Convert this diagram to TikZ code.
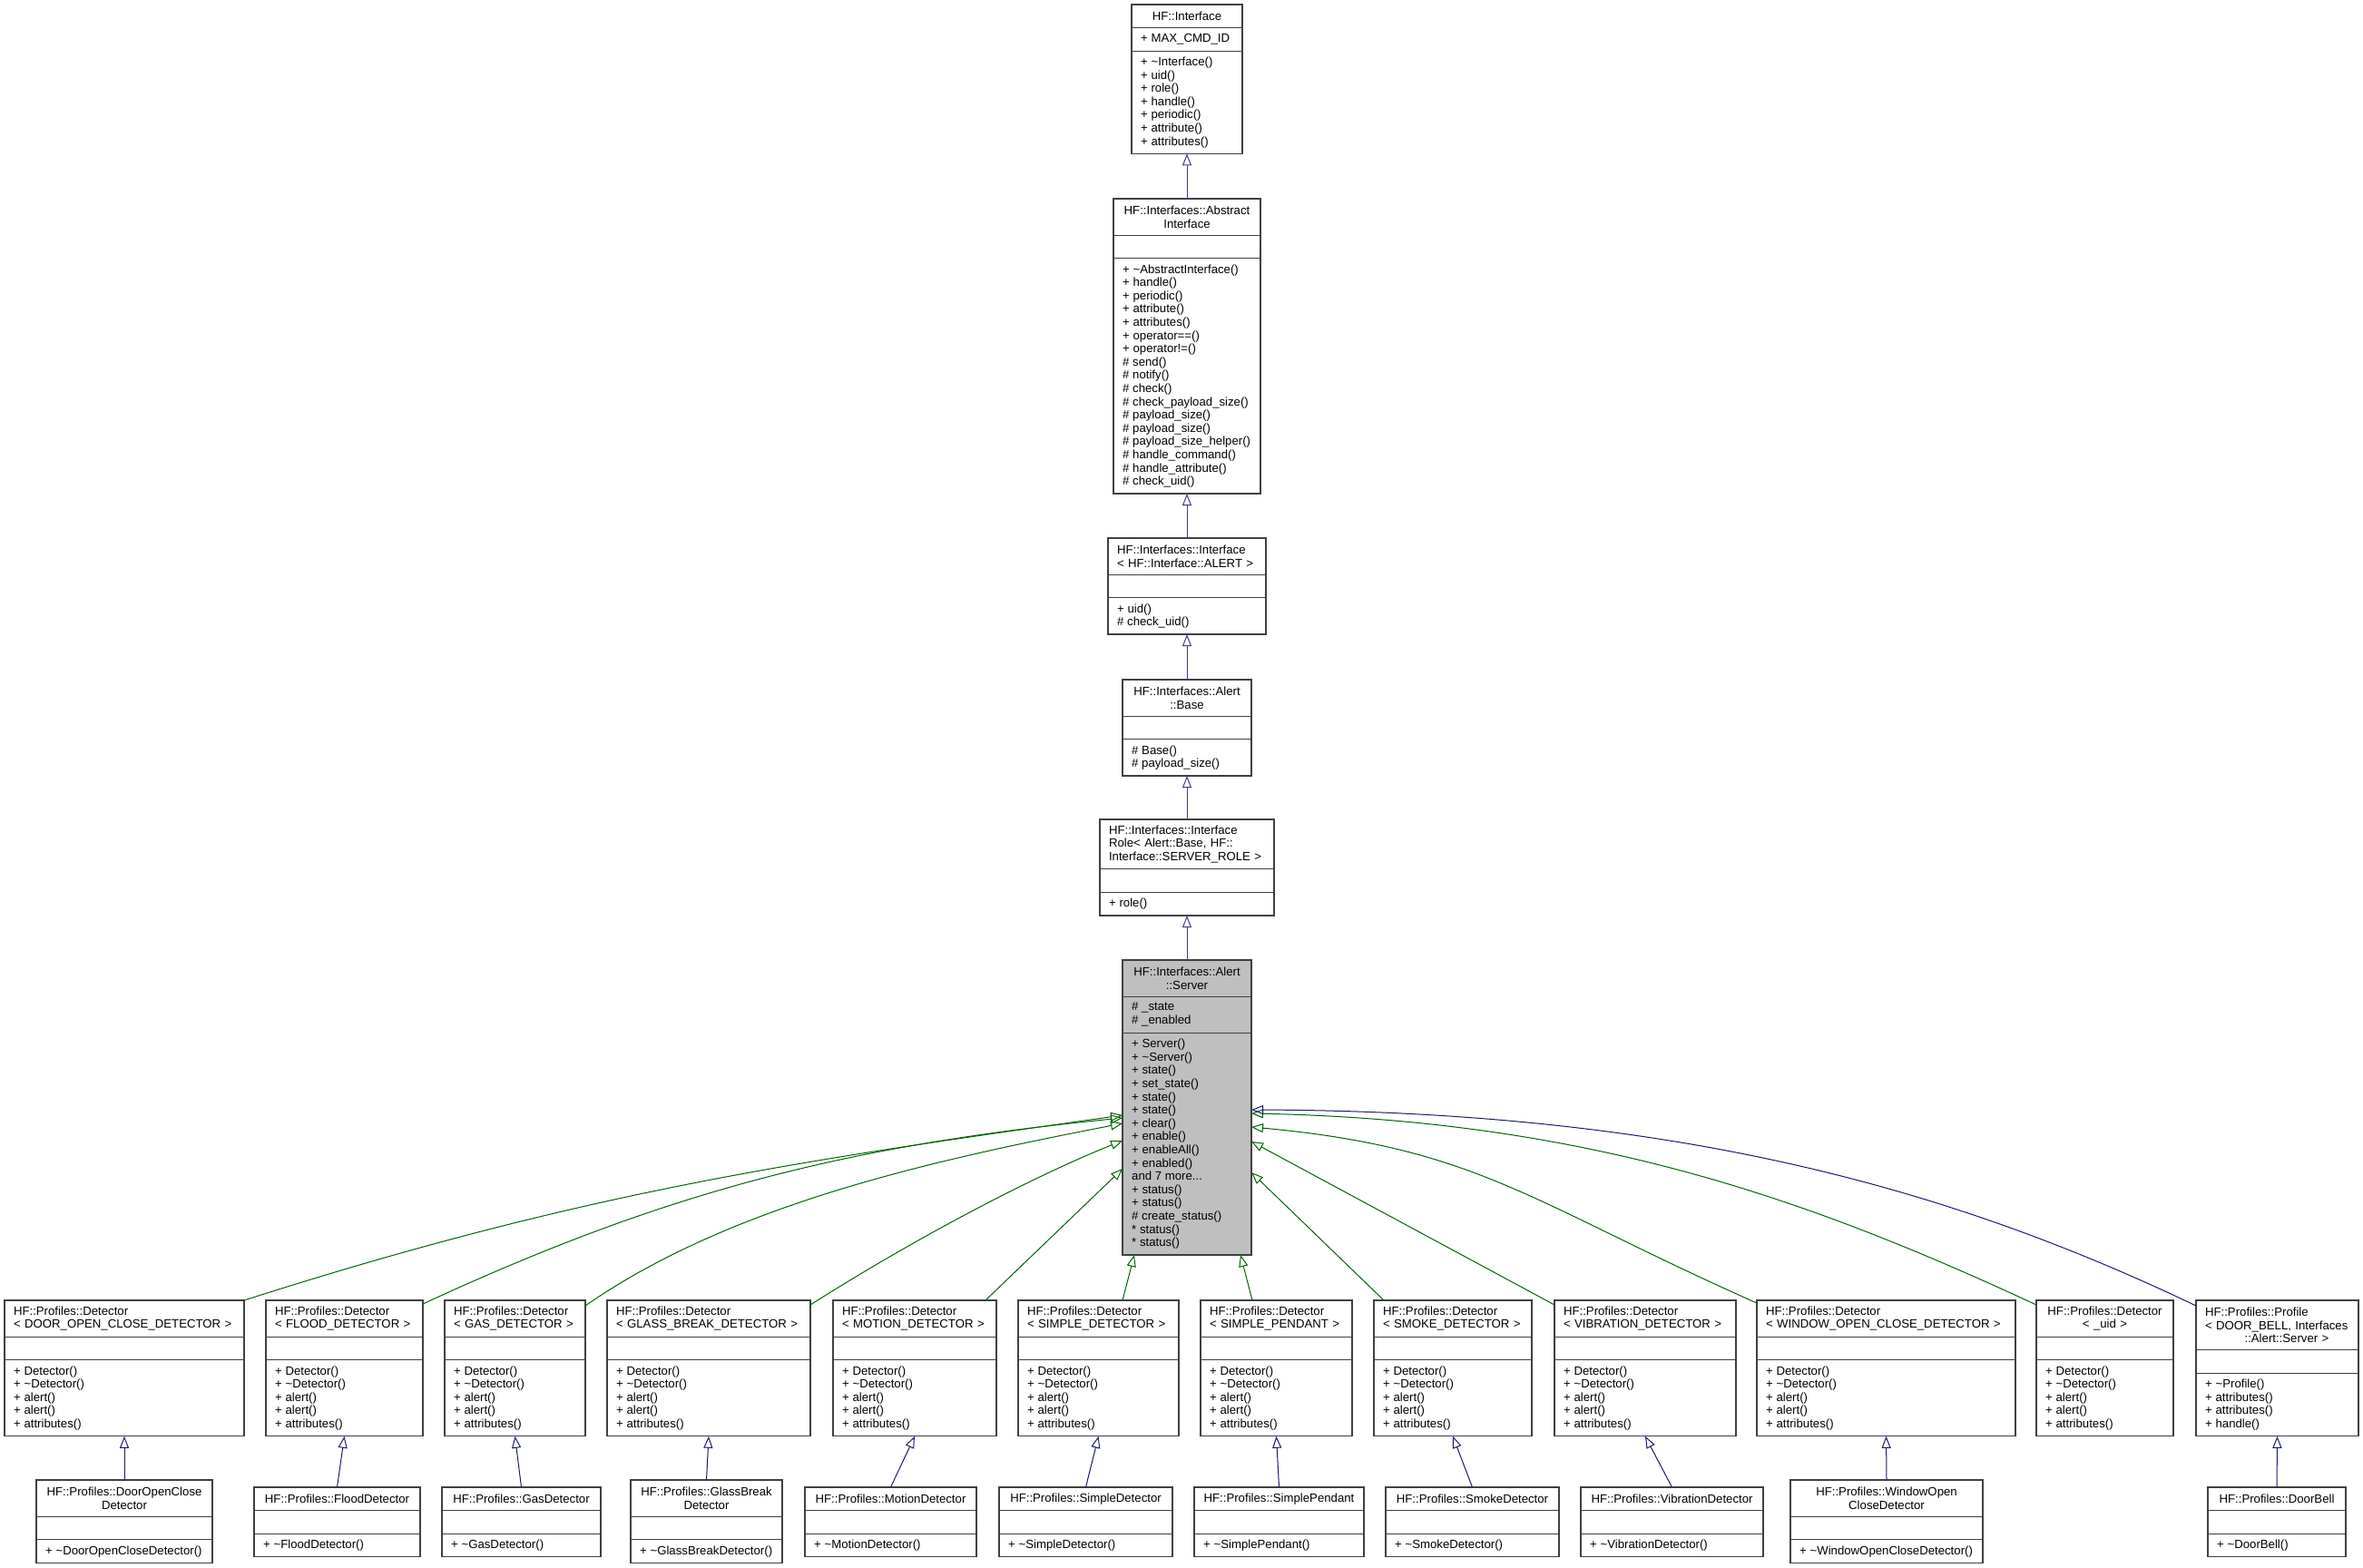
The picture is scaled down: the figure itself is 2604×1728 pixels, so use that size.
\documentclass[tikz,border=0pt]{standalone}
\usepackage{fontspec}
\setmainfont{Liberation Sans}
\usetikzlibrary{arrows.meta}
\definecolor{chainblue}{HTML}{3C3C90}
\definecolor{leafblue}{HTML}{191970}
\definecolor{inhgreen}{HTML}{006400}
\definecolor{boxline}{HTML}{404040}
\tikzset{
  umlframe/.style={draw=boxline, line width=1.2pt, inner sep=0pt, outer sep=0pt},
  umlrule/.style={draw=boxline, line width=1.2pt},
  umltext/.style={inner sep=0pt, font=\fontsize{13.2}{14.6}\selectfont},
  ltitle/.style={align=left},
  ctitle/.style={align=center},
  inh/.style={line width=1pt, -{Triangle[open, length=13pt, width=10pt]}},
}
\def\boxfill{white}
\def\splitcounts#1/#2/#3\relax{\def\nT{#1}\def\nA{#2}\def\nO{#3}}
% name, x1, x2, y1, lines title/attrs/ops, title, attrs, ops, title style
\newcommand{\umlbox}[9]{%
  \splitcounts#5\relax
  \pgfmathsetmacro\ya{#4+14.6*\nT+11}
  \pgfmathsetmacro\yb{\ya+14.6*max(\nA,1)+11}
  \pgfmathsetmacro\yc{\yb+14.6*\nO+11}
  \pgfmathsetmacro\bw{#3-#2}
  \pgfmathsetmacro\bh{\yc-#4}
  \pgfmathsetmacro\tw{\bw-20}
  \node[umlframe, fill=\boxfill, minimum width=\bw pt, minimum height=\bh pt, anchor=north west] (#1) at (#2,#4) {};
  \draw[umlrule] (#2,\ya) -- (#3,\ya);
  \draw[umlrule] (#2,\yb) -- (#3,\yb);
  \node[umltext, #9, text width=\tw pt] at ({(#2+#3)/2},{(#4+\ya)/2}) {#6};
  \node[umltext, align=left, anchor=north west] at (#2+10,\yb+6.5) {#8};
  \node[umltext, align=left, anchor=north west] at (#2+10,\ya+6.5) {#7};
}
\newcommand{\tl}{\textasciitilde}
\newcommand{\detops}{+ Detector()\\+ \tl Detector()\\+ alert()\\+ alert()\\+ attributes()}
\begin{document}
\begin{tikzpicture}[x=1pt, y=-1pt]
  \useasboundingbox (0,0) rectangle (2604,1728);
  % inheritance chain
  \umlbox{iface}{1247}{1369}{5}{1/1/7}{HF::Interface}{+ MAX\_CMD\_ID}{+ \tl Interface()\\+ uid()\\+ role()\\+ handle()\\+ periodic()\\+ attribute()\\+ attributes()}{ctitle}
  \umlbox{abstract}{1227}{1389}{219}{2/0/17}{HF::Interfaces::Abstract\\Interface}{}{+ \tl AbstractInterface()\\+ handle()\\+ periodic()\\+ attribute()\\+ attributes()\\+ operator==()\\+ operator!=()\\\# send()\\\# notify()\\\# check()\\\# check\_payload\_size()\\\# payload\_size()\\\# payload\_size()\\\# payload\_size\_helper()\\\# handle\_command()\\\# handle\_attribute()\\\# check\_uid()}{ctitle}
  \umlbox{alertiface}{1221}{1395}{593}{2/0/2}{HF::Interfaces::Interface\\< HF::Interface::ALERT >}{}{+ uid()\\\# check\_uid()}{ltitle}
  \umlbox{base}{1237}{1379}{749}{2/0/2}{HF::Interfaces::Alert\\::Base}{}{\# Base()\\\# payload\_size()}{ctitle}
  \umlbox{role}{1212}{1404}{903}{3/0/1}{HF::Interfaces::Interface\\Role< Alert::Base, HF::\\Interface::SERVER\_ROLE >}{}{+ role()}{ltitle}
  {\def\boxfill{black!25}
  \umlbox{server}{1237}{1379}{1058}{2/2/16}{HF::Interfaces::Alert\\::Server}{\# \_state\\\# \_enabled}{+ Server()\\+ \tl Server()\\+ state()\\+ set\_state()\\+ state()\\+ state()\\+ clear()\\+ enable()\\+ enableAll()\\+ enabled()\\and 7 more...\\+ status()\\+ status()\\\# create\_status()\\* status()\\* status()}{ctitle}}

  % detectors
  \umlbox{doordet}{5}{269}{1433}{2/0/5}{HF::Profiles::Detector\\< DOOR\_OPEN\_CLOSE\_DETECTOR >}{}{\detops}{ltitle}
  \umlbox{flooddet}{293}{466}{1433}{2/0/5}{HF::Profiles::Detector\\< FLOOD\_DETECTOR >}{}{\detops}{ltitle}
  \umlbox{gasdet}{490}{645}{1433}{2/0/5}{HF::Profiles::Detector\\< GAS\_DETECTOR >}{}{\detops}{ltitle}
  \umlbox{glassdet}{669}{893}{1433}{2/0/5}{HF::Profiles::Detector\\< GLASS\_BREAK\_DETECTOR >}{}{\detops}{ltitle}
  \umlbox{motiondet}{918}{1098}{1433}{2/0/5}{HF::Profiles::Detector\\< MOTION\_DETECTOR >}{}{\detops}{ltitle}
  \umlbox{simpledet}{1122}{1299}{1433}{2/0/5}{HF::Profiles::Detector\\< SIMPLE\_DETECTOR >}{}{\detops}{ltitle}
  \umlbox{pendantdet}{1323}{1490}{1433}{2/0/5}{HF::Profiles::Detector\\< SIMPLE\_PENDANT >}{}{\detops}{ltitle}
  \umlbox{smokedet}{1514}{1688}{1433}{2/0/5}{HF::Profiles::Detector\\< SMOKE\_DETECTOR >}{}{\detops}{ltitle}
  \umlbox{vibdet}{1713}{1913}{1433}{2/0/5}{HF::Profiles::Detector\\< VIBRATION\_DETECTOR >}{}{\detops}{ltitle}
  \umlbox{windowdet}{1936}{2221}{1433}{2/0/5}{HF::Profiles::Detector\\< WINDOW\_OPEN\_CLOSE\_DETECTOR >}{}{\detops}{ltitle}
  \umlbox{uiddet}{2244}{2395}{1433}{2/0/5}{HF::Profiles::Detector\\< \_uid >}{}{\detops}{ctitle}
  \umlbox{profile}{2420}{2599}{1433}{3/0/4}{HF::Profiles::Profile\\< DOOR\_BELL, Interfaces\\\hspace*{3.3em}::Alert::Server >}{}{+ \tl Profile()\\+ attributes()\\+ attributes()\\+ handle()}{ltitle}

  % leaf classes
  \umlbox{doorleaf}{40}{234}{1631}{2/0/1}{HF::Profiles::DoorOpenClose\\Detector}{}{+ \tl DoorOpenCloseDetector()}{ctitle}
  \umlbox{floodleaf}{280}{463}{1639}{1/0/1}{HF::Profiles::FloodDetector}{}{+ \tl FloodDetector()}{ctitle}
  \umlbox{gasleaf}{487}{662}{1639}{1/0/1}{HF::Profiles::GasDetector}{}{+ \tl GasDetector()}{ctitle}
  \umlbox{glassleaf}{695}{862}{1631}{2/0/1}{HF::Profiles::GlassBreak\\Detector}{}{+ \tl GlassBreakDetector()}{ctitle}
  \umlbox{motionleaf}{887}{1076}{1639}{1/0/1}{HF::Profiles::MotionDetector}{}{+ \tl MotionDetector()}{ctitle}
  \umlbox{simpleleaf}{1101}{1292}{1639}{1/0/1}{HF::Profiles::SimpleDetector}{}{+ \tl SimpleDetector()}{ctitle}
  \umlbox{pendantleaf}{1316}{1503}{1639}{1/0/1}{HF::Profiles::SimplePendant}{}{+ \tl SimplePendant()}{ctitle}
  \umlbox{smokeleaf}{1527}{1718}{1639}{1/0/1}{HF::Profiles::SmokeDetector}{}{+ \tl SmokeDetector()}{ctitle}
  \umlbox{vibleaf}{1742}{1943}{1639}{1/0/1}{HF::Profiles::VibrationDetector}{}{+ \tl VibrationDetector()}{ctitle}
  \umlbox{windowleaf}{1973}{2185}{1631}{2/0/1}{HF::Profiles::WindowOpen\\CloseDetector}{}{+ \tl WindowOpenCloseDetector()}{ctitle}
  \umlbox{bellleaf}{2433}{2585}{1639}{1/0/1}{HF::Profiles::DoorBell}{}{+ \tl DoorBell()}{ctitle}

  % chain arrows
  \draw[inh, chainblue] (abstract.north) -- (iface.south);
  \draw[inh, chainblue] (alertiface.north) -- (abstract.south);
  \draw[inh, chainblue] (base.north) -- (alertiface.south);
  \draw[inh, chainblue] (role.north) -- (base.south);
  \draw[inh, chainblue] (server.north) -- (role.south);

  % ends on the server box
  \coordinate (inDoor) at (1237,1229);
  \coordinate (inFlood) at (1237,1232);
  \coordinate (inGas) at (1237,1238);
  \coordinate (inGlass) at (1237,1257);
  \coordinate (inMotion) at (1237,1288);
  \coordinate (inSimple) at (1250,1383);
  \coordinate (inPendant) at (1367,1383);
  \coordinate (inSmoke) at (1379,1292);
  \coordinate (inVib) at (1379,1258);
  \coordinate (inWindow) at (1379,1242);
  \coordinate (inUid) at (1379,1227);
  \coordinate (inProfile) at (1379,1223);

  \draw[inh, inhgreen] (doordet.north east) .. controls (650,1311) and (890,1278) .. (inDoor);
  \draw[inh, inhgreen] ([yshift=-4pt]flooddet.north east) .. controls (738,1311) and (937,1262) .. (inFlood);
  \draw[inh, inhgreen] ([yshift=-6pt]gasdet.north east) .. controls (809,1325) and (1037,1277) .. (inGas);
  \draw[inh, inhgreen] ([yshift=-5pt]glassdet.north east) .. controls (1000,1370) and (1130,1300) .. (inGlass);
  \draw[inh, inhgreen] ([xshift=-12pt]motiondet.north east) -- (inMotion);
  \draw[inh, inhgreen] ([xshift=-62pt]simpledet.north east) -- (inSimple);
  \draw[inh, inhgreen] ([xshift=57pt]pendantdet.north west) -- (inPendant);
  \draw[inh, inhgreen] ([xshift=11pt]smokedet.north west) -- (inSmoke);
  \draw[inh, inhgreen] ([yshift=-5pt]vibdet.north west) -- (inVib);
  \draw[inh, inhgreen] ([yshift=-3pt]windowdet.north west) .. controls (1686,1325) and (1629,1265) .. (inWindow);
  \draw[inh, inhgreen] ([yshift=-5pt]uiddet.north west) .. controls (1990,1320) and (1750,1235) .. (inUid);
  \draw[inh, leafblue] ([yshift=-6pt]profile.north west) .. controls (2150,1310) and (1850,1225) .. (inProfile);

  % leaf arrows
  \draw[inh, leafblue] (doorleaf.north) -- (doordet.south);
  \draw[inh, leafblue] (floodleaf.north) -- (flooddet.south);
  \draw[inh, leafblue] (gasleaf.north) -- (gasdet.south);
  \draw[inh, leafblue] (glassleaf.north) -- (glassdet.south);
  \draw[inh, leafblue] (motionleaf.north) -- (motiondet.south);
  \draw[inh, leafblue] (simpleleaf.north) -- (simpledet.south);
  \draw[inh, leafblue] (pendantleaf.north) -- (pendantdet.south);
  \draw[inh, leafblue] (smokeleaf.north) -- (smokedet.south);
  \draw[inh, leafblue] (vibleaf.north) -- (vibdet.south);
  \draw[inh, leafblue] (windowleaf.north) -- (windowdet.south);
  \draw[inh, leafblue] (bellleaf.north) -- (profile.south);
\end{tikzpicture}
\end{document}
